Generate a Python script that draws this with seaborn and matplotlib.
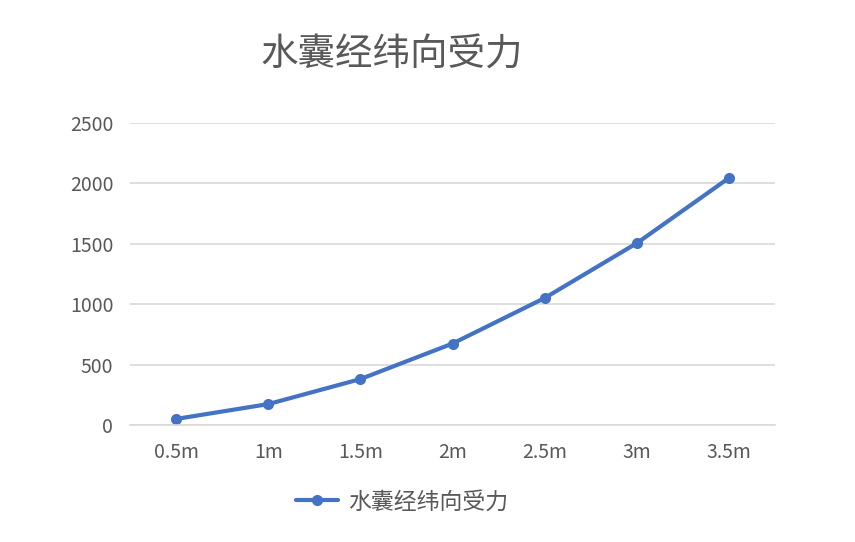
import matplotlib
matplotlib.use("Agg")
import matplotlib.pyplot as plt
import seaborn as sns
import pandas as pd

categories = ["0.5m", "1m", "1.5m", "2m", "2.5m", "3m", "3.5m"]
values = [50, 173, 380, 674, 1051, 1505, 2045]
series_name = "水囊经纬向受力"
yticks = [0, 500, 1000, 1500, 2000, 2500]

sns.set_theme(style="white")
plt.rcParams['font.family'] = ['Noto Sans CJK SC', 'DejaVu Sans']

df = pd.DataFrame({"x": categories, "y": values, "s": series_name})

fig = plt.figure(figsize=(8.55, 5.42), dpi=100)
ax = fig.add_axes([130/855, 117/542, 645/855, 302/542])

sns.lineplot(data=df, x="x", y="y", hue="s", palette=["#4472C4"], marker="o",
             markersize=8, markeredgewidth=0, linewidth=3, sort=False, ax=ax)

ax.set_xlim(-0.5, len(categories) - 0.5)
ax.set_ylim(0, 2500)
ax.set_yticks(yticks)
ax.set_yticklabels([str(v) for v in yticks])
ax.yaxis.grid(True, color="#D9D9D9", linewidth=1.2)
ax.set_axisbelow(True)
for s in ["top", "right", "left"]:
    ax.spines[s].set_visible(False)
ax.spines["bottom"].set_color("#D9D9D9")
ax.spines["bottom"].set_linewidth(1.2)
ax.tick_params(axis="both", length=0, labelsize=14, labelcolor="#595959", pad=12)
ax.set_xlabel("")
ax.set_ylabel("")

fig.text(392/855, 1 - 55/542, series_name, ha="center", va="center",
         fontsize=27, color="#595959")

leg = ax.legend(loc="center", bbox_to_anchor=(402/855, 1 - 502/542),
                bbox_transform=fig.transFigure, frameon=False, fontsize=16.5,
                handlelength=1.85, handletextpad=0.45)
for t in leg.get_texts():
    t.set_color("#595959")

fig.savefig("out.png", dpi=100, facecolor="white")
